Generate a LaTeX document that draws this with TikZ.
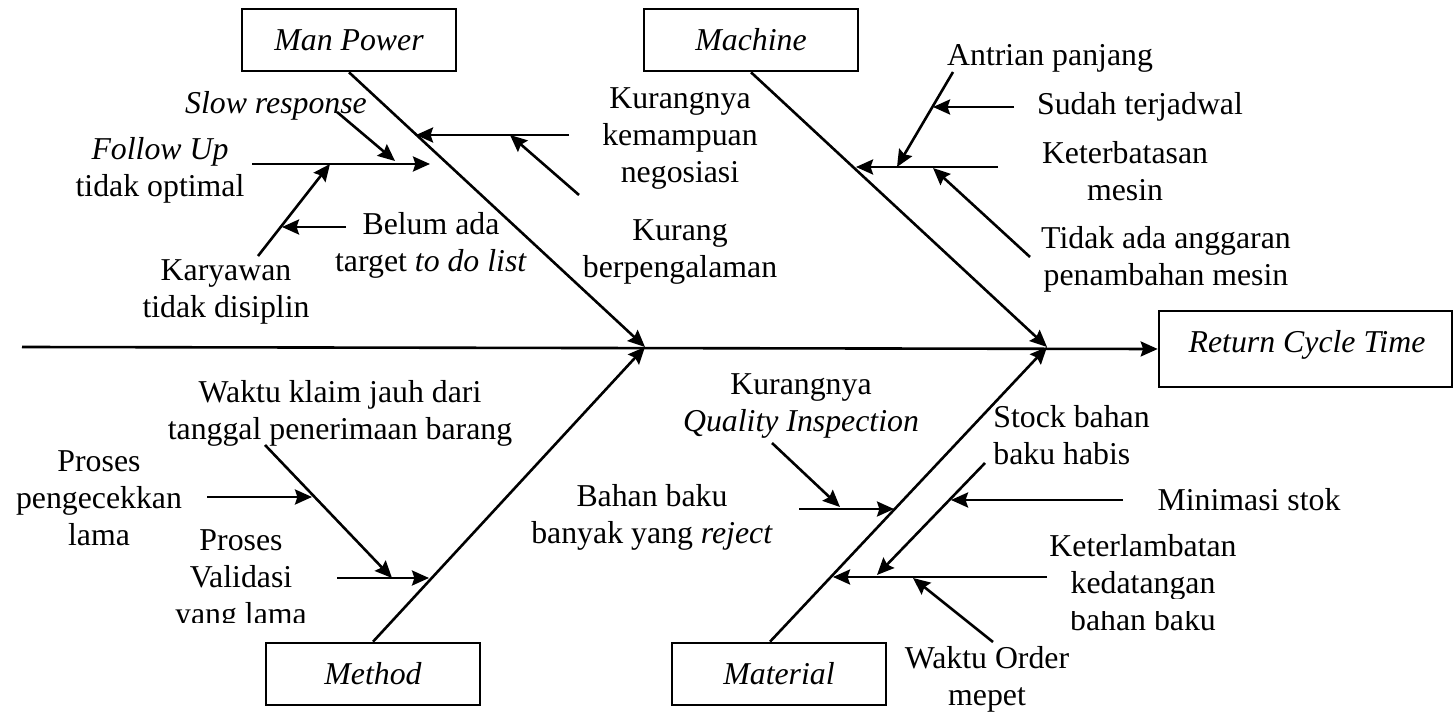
\documentclass[tikz,border=0pt]{standalone}
\usepackage{fontspec}
\setmainfont{Liberation Serif}
\usetikzlibrary{arrows.meta,calc}

\begin{document}
\begin{tikzpicture}[x=0.5pt,y=-0.5pt,
  txt/.style={font=\fontsize{15.9}{18.5}\selectfont},
  lbl/.style={txt, inner sep=0pt, align=center, yshift=-1.25pt},
  lbl1/.style={lbl, text height=11.5pt, text depth=3.5pt},
  catbox/.style={draw, line width=1.3pt, minimum width=107pt, minimum height=31pt,
    inner sep=0pt, txt, text height=13pt, text depth=2.5pt},
  arr/.style={line width=1.3pt, -{Stealth[length=8.5pt,width=7.5pt,inset=1.2pt]}},
]
\useasboundingbox (0,0) rectangle (1454,716);

% main spine and effect box
\coordinate (tail) at (22,347);
\coordinate (J1) at (645,347);
\coordinate (J2) at (1047,347);
\node[draw, line width=1.3pt, minimum width=146.5pt, minimum height=38pt, inner sep=0pt] (effect) at (1305.5,349) {};
\node[lbl1] (effect-label) at (1307,342) {\itshape Return Cycle Time};
\draw[arr] (tail) -- (effect.west);

% category boxes and bones
\node[catbox] (mp)  at (349,40)  {\itshape Man Power};
\node[catbox] (mac) at (751,40)  {\itshape Machine};
\node[catbox] (met) at (373,674) {\itshape Method};
\node[catbox] (mat) at (779,674) {\itshape Material};
\draw[arr] (mp.south) -- (J1);
\draw[arr] (mac.south) -- (J2);
\draw[arr] (met.north) -- (J1);
\draw[arr] ($(mat.north)+(-9,0)$) -- (J2);

% ---- Man Power causes
\node[lbl] (kkn) at (680,136) {Kurangnya\\kemampuan\\negosiasi};
\coordinate (kkn-a) at (569,135); \coordinate (kkn-b) at (416,135);
\draw[arr] (kkn-a) -- (kkn-b);

\node[lbl] (kb) at (680,250) {Kurang\\berpengalaman};
\coordinate (kb-a) at (579,195); \coordinate (kb-b) at (510,135);
\draw[arr] (kb-a) -- (kb-b);

\node[lbl1] (sr) at (276,103) {\itshape Slow response};
\coordinate (sr-a) at (337,112); \coordinate (sr-b) at (395,161);
\draw[arr] (sr-a) -- (sr-b);

\node[lbl] (fu) at (160,168) {\textit{Follow Up}\\tidak optimal};
\coordinate (fu-a) at (252,164); \coordinate (fu-b) at (430,164);
\draw[arr] (fu-a) -- (fu-b);

\node[lbl] (kd) at (226,289) {Karyawan\\tidak disiplin};
\coordinate (kd-a) at (258,256); \coordinate (kd-b) at (330,164);
\draw[arr] (kd-a) -- (kd-b);

\node[lbl] (ba) at (431,243) {Belum ada\\target \textit{to do list}};
\coordinate (ba-a) at (346,227); \coordinate (ba-b) at (282,227);
\draw[arr] (ba-a) -- (ba-b);

% ---- Machine causes
\node[lbl1] (ap) at (1050,55) {Antrian panjang};
\coordinate (ap-a) at (953,72); \coordinate (ap-b) at (897,167);
\draw[arr] (ap-a) -- (ap-b);

\node[lbl1] (st) at (1140,104) {Sudah terjadwal};
\coordinate (st-a) at (1014,107); \coordinate (st-b) at (933,107);
\draw[arr] (st-a) -- (st-b);

\node[lbl] (km) at (1125,169) {Keterbatasan\\mesin};
\coordinate (km-a) at (998,167); \coordinate (km-b) at (856,167);
\draw[arr] (km-a) -- (km-b);

\node[lbl] (ta) at (1166,257) {Tidak ada anggaran\\penambahan mesin};
\coordinate (ta-a) at (1030,257); \coordinate (ta-b) at (933,168);
\draw[arr] (ta-a) -- (ta-b);

% ---- Method causes
\node[lbl] (wk) at (340,411) {Waktu klaim jauh dari\\tanggal penerimaan barang};
\coordinate (wk-a) at (265,445); \coordinate (wk-b) at (392,578);
\draw[arr] (wk-a) -- (wk-b);

\node[lbl] (pp) at (99,496) {Proses\\pengecekkan\\lama};
\coordinate (pp-a) at (207,497); \coordinate (pp-b) at (312,497);
\draw[arr] (pp-a) -- (pp-b);

\begin{scope}
  \clip (100,500) rectangle (400,622);
  \node[lbl] (pv) at (241,578) {Proses\\Validasi\\yang lama};
\end{scope}
\coordinate (pv-a) at (337,578); \coordinate (pv-b) at (429,578);
\draw[arr] (pv-a) -- (pv-b);

% ---- Material causes
\node[lbl] (kq) at (801,404) {Kurangnya\\\textit{Quality Inspection}};
\coordinate (kq-a) at (772,443); \coordinate (kq-b) at (840,507);
\draw[arr] (kq-a) -- (kq-b);

\node[lbl] (bb) at (652,515) {Bahan baku\\banyak yang \textit{reject}};
\coordinate (bb-a) at (799,509); \coordinate (bb-b) at (894,509);
\draw[arr] (bb-a) -- (bb-b);

\node[lbl, align=left, anchor=west] (sb) at (993,433) {Stock bahan\\baku habis};
\coordinate (sb-a) at (985,463); \coordinate (sb-b) at (877,575);
\draw[arr] (sb-a) -- (sb-b);

\node[lbl1] (ms) at (1249,500) {Minimasi stok};
\coordinate (ms-a) at (1123,500); \coordinate (ms-b) at (951,500);
\draw[arr] (ms-a) -- (ms-b);

\begin{scope}
  \clip (1000,500) rectangle (1300,598) (1000,611) rectangle (1300,660);
  \node[lbl] (kt) at (1143,580) {Keterlambatan\\kedatangan\\bahan baku};
\end{scope}
\coordinate (kt-a) at (1047,577); \coordinate (kt-b) at (833,577);
\draw[arr] (kt-a) -- (kt-b);

\node[lbl] (wo) at (987,677) {Waktu Order\\mepet};
\coordinate (wo-a) at (993,642); \coordinate (wo-b) at (913,578);
\draw[arr] (wo-a) -- (wo-b);

\end{tikzpicture}
\end{document}
